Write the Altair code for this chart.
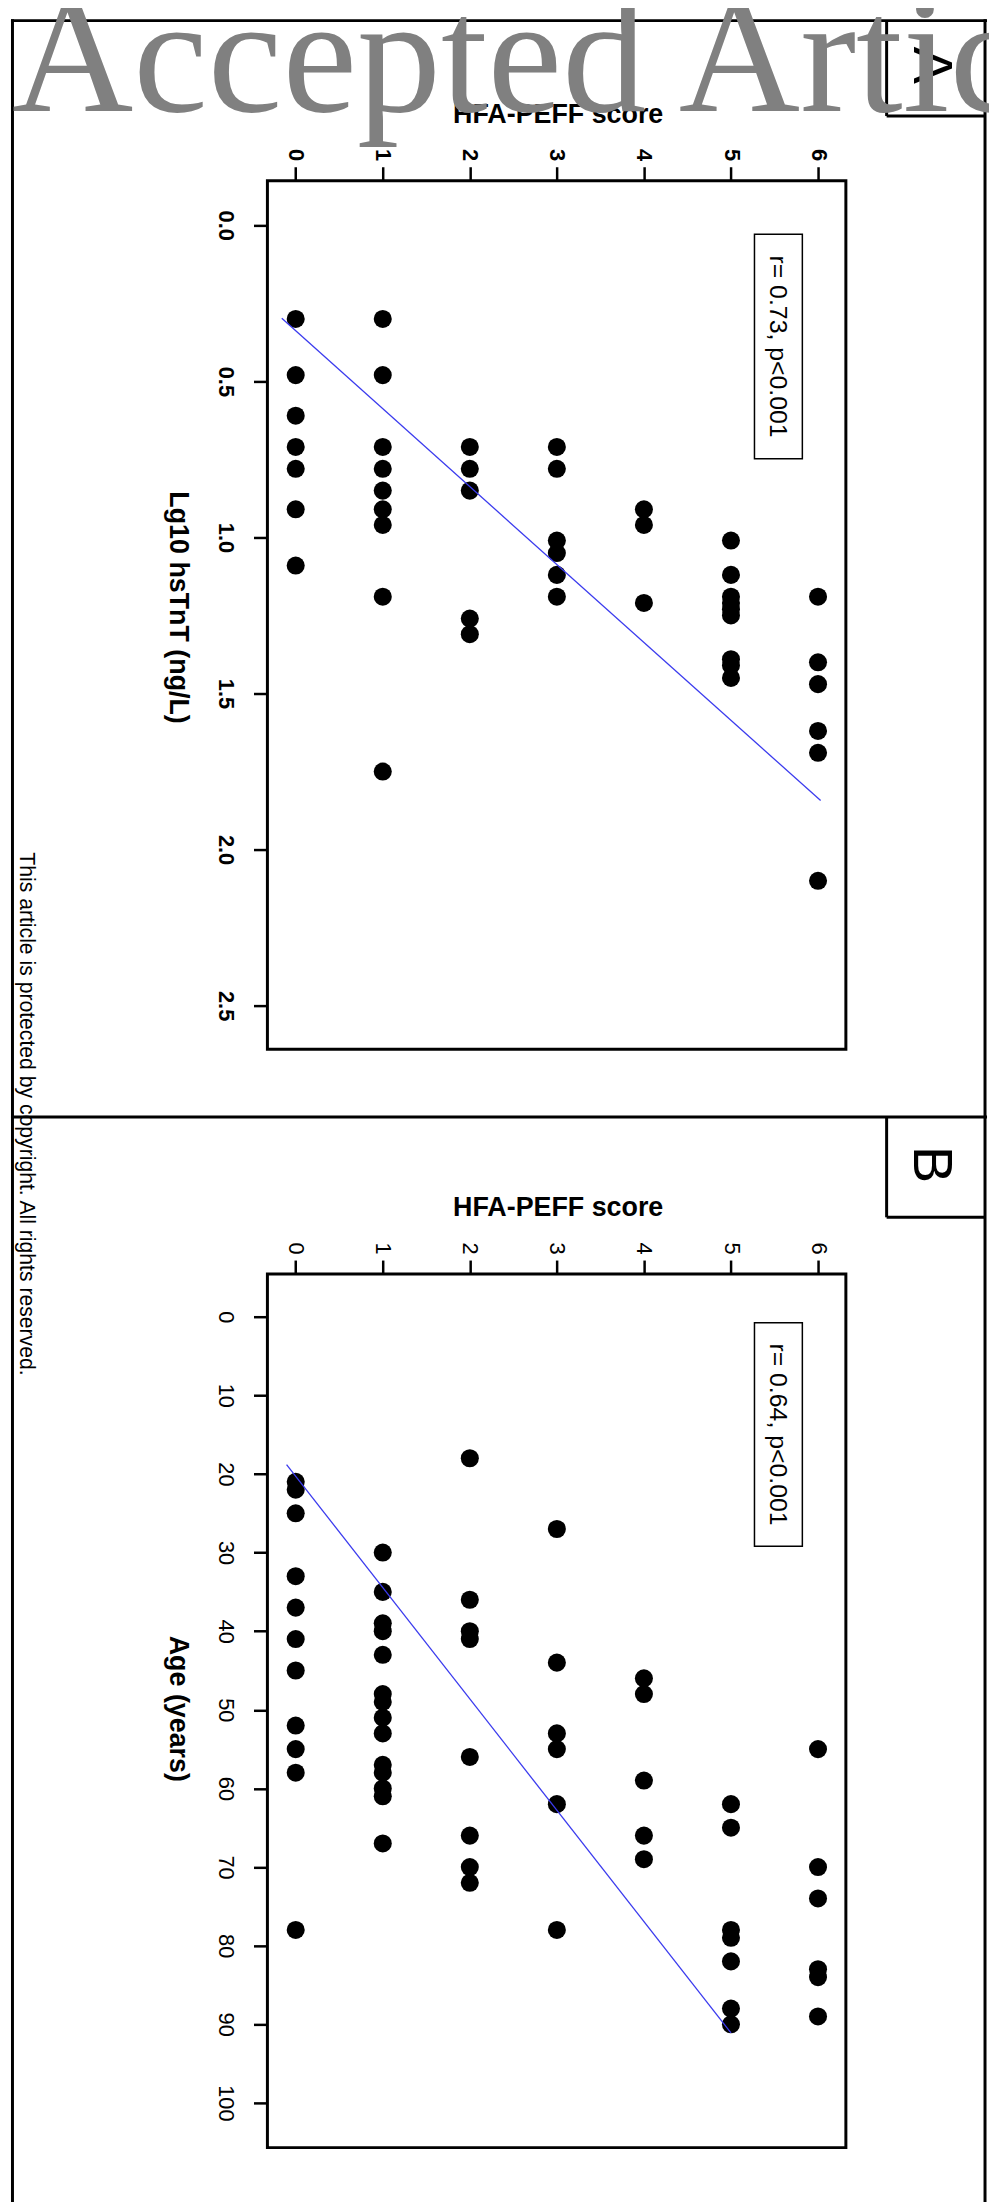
import altair as alt
import pandas as pd

SANS = "Liberation Sans"
SERIF = "Liberation Serif"

# ---------------- Panel A : HFA-PEFF score vs Lg10 hsTnT ----------------
a_scores = [0, 0, 0, 0, 0, 0, 0,
            1, 1, 1, 1, 1, 1, 1, 1, 1,
            2, 2, 2, 2, 2,
            3, 3, 3, 3, 3, 3,
            4, 4, 4,
            5, 5, 5, 5, 5, 5, 5, 5, 5,
            6, 6, 6, 6, 6, 6]
a_lg10_hstnt = [0.30, 0.48, 0.61, 0.71, 0.78, 0.91, 1.09,
                0.30, 0.48, 0.71, 0.78, 0.85, 0.91, 0.96, 1.19, 1.75,
                0.71, 0.78, 0.85, 1.26, 1.31,
                0.71, 0.78, 1.01, 1.05, 1.12, 1.19,
                0.91, 0.96, 1.21,
                1.01, 1.12, 1.19, 1.21, 1.23, 1.25, 1.39, 1.41, 1.45,
                1.19, 1.40, 1.47, 1.62, 1.69, 2.10]
a_fit_score = [-0.16, 6.03]
a_fit_value = [0.298, 1.843]
a_stat_label = "r= 0.73, p<0.001"
a_stat_box_score = [5.27, 5.82]
a_stat_box_value = [0.029, 0.748]
a_y_ticks = [0.0, 0.5, 1.0, 1.5, 2.0, 2.5]
a_y_domain = [-0.143, 2.640]

# ---------------- Panel B : HFA-PEFF score vs Age ----------------
b_scores = [0] * 11 + [1] * 14 + [2] * 8 + [3] * 6 + [4] * 5 + [5] * 7 + [6] * 6
b_age = [21, 22, 25, 33, 37, 41, 45, 52, 55, 58, 78,
         30, 35, 39, 40, 43, 48, 49, 51, 53, 57, 58, 60, 61, 67,
         18, 36, 40, 41, 56, 66, 70, 72,
         27, 44, 53, 55, 62, 78,
         46, 48, 59, 66, 69,
         62, 65, 78, 79, 82, 88, 90,
         55, 70, 74, 83, 84, 89]
b_fit_score = [-0.105, 5.0]
b_fit_age = [18.8, 91.1]
b_stat_label = "r= 0.64, p<0.001"
b_stat_box_score = [5.27, 5.82]
b_stat_box_age = [0.76, 29.2]
b_y_ticks = [0, 10, 20, 30, 40, 50, 60, 70, 80, 90, 100]
b_y_domain = [-5.44, 105.69]

x_ticks = [0, 1, 2, 3, 4, 5, 6]
x_domain = [-0.325, 6.320]

W = 582
HA = 874
HB = 879

dummy = pd.DataFrame({"k": [0]})


def x_axis(bold):
    return alt.Axis(orient="top", values=x_ticks, format="d", title="HFA-PEFF score",
                    titleX=292, titleY=-59, titleAngle=0, titleAlign="center",
                    titleBaseline="alphabetic", titleFont=SANS, titleFontSize=27,
                    titleFontWeight="bold", titleColor="black",
                    labelAngle=90, labelAlign="right", labelBaseline="middle",
                    labelPadding=6, labelFont=SANS, labelFontSize=22,
                    labelFontWeight="bold" if bold else "normal", labelColor="black",
                    labelFlush=False, labelOverlap=False,
                    tickSize=14, tickWidth=2.5, tickColor="black",
                    domain=False, grid=False)


def y_axis(title, ticks, fmt, bold, title_y):
    return alt.Axis(orient="left", values=ticks, format=fmt, title=title,
                    titleX=-99, titleY=title_y, titleAngle=90, titleAlign="center",
                    titleBaseline="alphabetic", titleFont=SANS, titleFontSize=27,
                    titleFontWeight="bold", titleColor="black",
                    labelAngle=90, labelAlign="center", labelBaseline="top",
                    labelPadding=18, labelFont=SANS, labelFontSize=22,
                    labelFontWeight="bold" if bold else "normal", labelColor="black",
                    labelFlush=False, labelOverlap=False,
                    tickSize=14, tickWidth=2.5, tickColor="black",
                    domain=False, grid=False)


def panel(scores, values, fit_s, fit_v, box_s, box_v, label, ydomain, yax):
    xs = alt.Scale(domain=x_domain, nice=False, zero=False)
    ys = alt.Scale(domain=[ydomain[1], ydomain[0]], nice=False, zero=False)
    xenc = alt.X("score:Q", scale=xs, axis=x_axis(yax[3]))
    yenc = alt.Y("value:Q", scale=ys, axis=y_axis(yax[0], yax[1], yax[2], yax[3], yax[4]))

    pts = alt.Chart(pd.DataFrame({"score": scores, "value": values})).mark_circle(
        size=330, color="black", opacity=1).encode(x=xenc, y=yenc)
    fit = alt.Chart(pd.DataFrame({"score": fit_s, "value": fit_v})).mark_line(
        color="#3b3bee", strokeWidth=1.3).encode(x=xenc, y=yenc)
    box = alt.Chart(pd.DataFrame({"score": [box_s[0]], "score2": [box_s[1]],
                                  "value": [box_v[0]], "value2": [box_v[1]]})).mark_rect(
        filled=False, stroke="black", strokeWidth=1.5).encode(
        x=xenc, x2=alt.X2("score2:Q"), y=yenc, y2=alt.Y2("value2:Q"))
    txt = alt.Chart(pd.DataFrame({"score": [(box_s[0] + box_s[1]) / 2],
                                  "value": [(box_v[0] + box_v[1]) / 2],
                                  "label": [label]})).mark_text(
        angle=90, align="center", baseline="middle", font=SANS, fontSize=25,
        color="black").encode(x=xenc, y=yenc, text="label:N")
    return [pts, fit, box, txt]


def rule(**kw):
    enc = {k: alt.value(v) for k, v in kw.items()}
    return alt.Chart(dummy).mark_rule(color="black", strokeWidth=3).encode(**enc)


def label(text, x, y, size, angle=90, font=SANS, color="black", align="center",
          baseline="middle", weight="normal"):
    return alt.Chart(dummy).mark_text(angle=angle, align=align, baseline=baseline,
                                      font=font, fontSize=size, color=color,
                                      fontWeight=weight).encode(
        x=alt.value(x), y=alt.value(y), text=alt.value(text))


layers_a = panel(a_scores, a_lg10_hstnt, a_fit_score, a_fit_value,
                 a_stat_box_score, a_stat_box_value, a_stat_label, a_y_domain,
                 ("Lg10 hsTnT (ng/L)", a_y_ticks, ".1f", True, 429))

# invisible extent guide: fixes the chart's outer bounds so the layout is predictable
guide = alt.Chart(dummy).mark_rule(color="white", opacity=0, strokeWidth=1).encode(
    x=alt.value(-258), x2=alt.value(960), y=alt.value(-260))

decor = [
    guide,
    rule(x=-258, x2=724, y=-161),
    rule(x=-256.5, y=-162.5, y2=2036),
    rule(x=722, y=-162.5, y2=2036),
    rule(x=-258, x2=724, y=942),
    rule(x=623, y=-161, y2=-65),
    rule(x=623, x2=722, y=-65),
    rule(x=623, y=942, y2=1043),
    rule(x=623, x2=722, y=1043),
    label("A", 668, -116, 56),
    label("B", 668, 990, 56),
    label("This article is protected by copyright. All rights reserved.", -249, 939, 21.3,
          baseline="alphabetic"),
    label("Accepted Article", -257, -70, 169, angle=0, font=SERIF, color="#808080",
          align="left", baseline="alphabetic"),
]

chart_a = alt.layer(*(layers_a + decor)).properties(width=W, height=HA)

layers_b = panel(b_scores, b_age, b_fit_score, b_fit_age,
                 b_stat_box_score, b_stat_box_age, b_stat_label, b_y_domain,
                 ("Age (years)", b_y_ticks, "d", False, 437))
chart_b = alt.layer(*layers_b).properties(width=W, height=HB)

chart = alt.vconcat(chart_a, chart_b, spacing=226, bounds="flush").properties(
    padding={"left": 0, "top": -95, "right": -236, "bottom": -12}
).configure_view(stroke="black", strokeWidth=3)

chart.save("out.html", embed_options={"renderer": "svg", "actions": False})
